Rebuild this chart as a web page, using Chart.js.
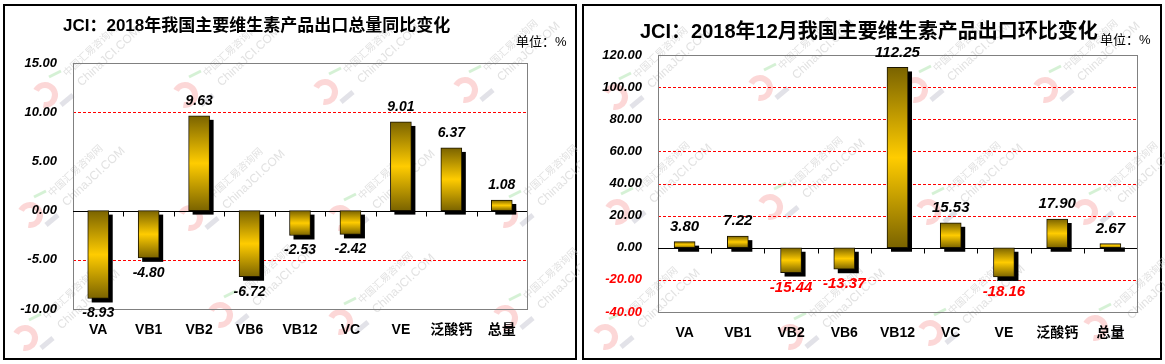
<!DOCTYPE html>
<html>
<head>
<meta charset="utf-8">
<script src="https://cdn.jsdelivr.net/npm/chart.js@4.4.0/dist/chart.umd.min.js"></script>
<style>
  body { margin:0; background:#fff; width:1165px; height:364px; position:relative; overflow:hidden;
         font-family:"Liberation Sans","Noto Sans CJK SC",sans-serif; }
  .panel { position:absolute; border:2px solid #000; box-sizing:border-box; }
  .title { position:absolute; font-weight:bold; color:#000; white-space:nowrap; }
  .unit { position:absolute; font-size:13px; color:#000; white-space:nowrap; }
  canvas { position:absolute; top:0; }
</style>
</head>
<body>
<div class="panel" style="left:3px;top:4px;width:574px;height:356px"></div>
<div class="panel" style="left:582px;top:4px;width:580px;height:356px"></div>
<canvas id="c1" width="580" height="364" style="left:0"></canvas>
<canvas id="c2" width="585" height="364" style="left:580px"></canvas>
<div class="title" style="left:63px;top:11px;font-size:17px">JCI：2018年我国主要维生素产品出口总量同比变化</div>
<div class="title" style="left:640px;top:15px;font-size:20px">JCI：2018年12月我国主要维生素产品出口环比变化</div>
<div class="unit" style="left:516px;top:31px">单位：%</div>
<div class="unit" style="left:1100px;top:29px">单位：%</div>
<script>
// 数据
const categories = ['VA', 'VB1', 'VB2', 'VB6', 'VB12', 'VC', 'VE', '泛酸钙', '总量'];
const yoyValues = [-8.93, -4.80, 9.63, -6.72, -2.53, -2.42, 9.01, 6.37, 1.08];
const momValues = [3.80, 7.22, -15.44, -13.37, 112.25, 15.53, -18.16, 17.90, 2.67];
const yoyTicks = [-10, -5, 0, 5, 10, 15];
const momTicks = [-40, -20, 0, 20, 40, 60, 80, 100, 120];
const yoyGrid = [10, -5];
const momGrid = [100, 80, 60, 40, 20, -20];

const FONT = '"Liberation Sans","Noto Sans CJK SC",sans-serif';

// 水印位置 (canvas 坐标)
const wm1 = [[45,95],[185,95],[325,92],[465,90],[30,215],[190,218],[340,218],[505,215],[25,338],[220,315],[340,322],[505,318]];
const wm2 = [[35,97],[180,88],[335,90],[465,90],[37,212],[190,207],[348,212],[505,212],[25,337],[210,337],[350,333],[515,328]];

function drawMark(ctx, x, y) {
  ctx.save();
  ctx.lineCap = 'butt';
  ctx.strokeStyle = 'rgba(245,140,140,0.35)';
  ctx.lineWidth = 6;
  ctx.beginPath();
  ctx.arc(x, y, 10, Math.PI * 1.15, Math.PI * 2.55);
  ctx.stroke();
  ctx.strokeStyle = 'rgba(190,190,205,0.45)';
  ctx.lineWidth = 5;
  ctx.beginPath(); ctx.moveTo(x + 16, y + 10); ctx.lineTo(x + 28, y); ctx.stroke();
  ctx.strokeStyle = 'rgba(150,220,150,0.4)';
  ctx.lineWidth = 3;
  ctx.beginPath(); ctx.moveTo(x + 4, y - 18); ctx.lineTo(x + 16, y - 24); ctx.stroke();
  ctx.translate(x + 22, y - 18);
  ctx.rotate(-0.75);
  ctx.fillStyle = 'rgba(200,200,200,0.55)';
  ctx.font = '10px "Noto Sans CJK SC"';
  ctx.fillText('中国汇易咨询网', 0, 0);
  ctx.font = '12px ' + FONT;
  ctx.fillText('ChinaJCI.COM', 4, 17);
  ctx.restore();
}

function barFill(c) {
  const chart = c.chart;
  if (!chart.chartArea || c.type !== 'data') return '#ffcc00';
  const ys = chart.scales.y;
  const y0 = ys.getPixelForValue(0), y1 = ys.getPixelForValue(c.raw);
  const g = chart.ctx.createLinearGradient(0, Math.min(y0, y1), 0, Math.max(y0, y1) + 0.1);
  g.addColorStop(0, '#7a6300');
  g.addColorStop(0.5, '#ffcc00');
  g.addColorStop(1, '#7a6300');
  return g;
}

function decoPlugin(marks, gridVals, negRed, labelSize) {
  return {
    id: 'deco',
    beforeDraw(chart) {
      marks.forEach(m => drawMark(chart.ctx, m[0], m[1]));
    },
    beforeDatasetsDraw(chart) {
      const ctx = chart.ctx, a = chart.chartArea, ys = chart.scales.y, xs = chart.scales.x;
      ctx.save();
      // 网格线
      ctx.strokeStyle = '#ff0000';
      ctx.lineWidth = 1;
      ctx.setLineDash([3, 2]);
      gridVals.forEach(v => {
        const y = Math.round(ys.getPixelForValue(v)) + 0.5;
        ctx.beginPath(); ctx.moveTo(a.left, y); ctx.lineTo(a.right, y); ctx.stroke();
      });
      ctx.setLineDash([]);
      // 边框
      ctx.strokeStyle = '#808080';
      ctx.strokeRect(Math.round(a.left) + 0.5, Math.round(a.top) + 0.5, Math.round(a.right - a.left), Math.round(a.bottom - a.top));
      // 零线和刻度
      const y0 = Math.round(ys.getPixelForValue(0)) + 0.5;
      ctx.strokeStyle = '#000';
      ctx.beginPath(); ctx.moveTo(a.left, y0); ctx.lineTo(a.right, y0); ctx.stroke();
      const step = (a.right - a.left) / categories.length;
      for (let i = 1; i < categories.length; i++) {
        const x = Math.round(xs.getPixelForValue(i) - step / 2) + 0.5;
        ctx.beginPath(); ctx.moveTo(x, y0); ctx.lineTo(x, y0 + 5); ctx.stroke();
      }
      // 阴影
      ctx.fillStyle = '#000';
      chart.getDatasetMeta(0).data.forEach(b => {
        const top = Math.min(b.y, b.base), h = Math.abs(b.base - b.y);
        ctx.fillRect(b.x - b.width / 2 + 4, top + 4, b.width, h);
      });
      ctx.restore();
    },
    afterDatasetsDraw(chart) {
      const ctx = chart.ctx;
      const vals = chart.data.datasets[0].data;
      ctx.save();
      ctx.font = 'italic bold ' + labelSize + 'px ' + FONT;
      ctx.textAlign = 'center';
      ctx.textBaseline = 'middle';
      chart.getDatasetMeta(0).data.forEach((b, i) => {
        const v = vals[i];
        ctx.fillStyle = (negRed && v < 0) ? '#ff0000' : '#000';
        ctx.fillText(v.toFixed(2), b.x, v >= 0 ? b.y - 15 : b.y + 15);
      });
      ctx.restore();
    }
  };
}

function makeChart(id, values, ticks, gridVals, negRed, pad, yWidth, xHeight, tickPad, xPad, labelSize, marks) {
  return new Chart(document.getElementById(id).getContext('2d'), {
    type: 'bar',
    data: {
      labels: categories,
      datasets: [{
        data: values,
        backgroundColor: barFill,
        borderColor: '#1a1400',
        borderWidth: 1,
        borderSkipped: false,
        barThickness: 21
      }]
    },
    options: {
      responsive: false,
      animation: false,
      devicePixelRatio: 1,
      layout: { padding: pad },
      plugins: { legend: { display: false }, tooltip: { enabled: false } },
      scales: {
        x: {
          grid: { display: false, drawTicks: false },
          border: { display: false },
          afterFit(s) { s.height = xHeight; },
          ticks: { color: '#000', padding: xPad, font: { family: FONT, size: 14, weight: 'bold' } }
        },
        y: {
          min: ticks[0],
          max: ticks[ticks.length - 1],
          afterBuildTicks(s) { s.ticks = ticks.map(v => ({ value: v })); },
          afterFit(s) { s.width = yWidth; },
          grid: { display: false, drawTicks: false },
          border: { display: false },
          ticks: {
            padding: tickPad,
            callback: v => Number(v).toFixed(2),
            color: c => (negRed && c.tick.value < 0) ? '#ff0000' : '#000',
            font: { family: FONT, size: 13, weight: 'bold', style: 'italic' }
          }
        }
      }
    },
    plugins: [decoPlugin(marks, gridVals, negRed, labelSize)]
  });
}

makeChart('c1', yoyValues, yoyTicks, yoyGrid, false,
  { left: 0, top: 63, right: 53, bottom: 0 }, 73, 55, 16, 13, 14, wm1);
makeChart('c2', momValues, momTicks, momGrid, true,
  { left: 0, top: 55, right: 28, bottom: 0 }, 78, 52, 16, 13, 15, wm2);
</script>
</body>
</html>
